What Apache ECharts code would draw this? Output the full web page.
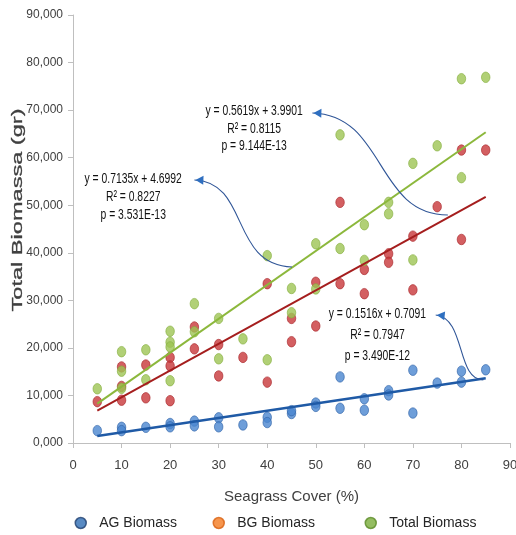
<!DOCTYPE html>
<html>
<head>
<meta charset="utf-8">
<script src="https://cdn.jsdelivr.net/npm/echarts@6/dist/echarts.min.js"></script>
<style>
html,body{margin:0;padding:0;background:#fff;}
#chart{width:516px;height:535px;}
</style>
</head>
<body>
<div id="chart"></div>
<script>
// ---- data (x = seagrass cover %, y = biomass) ----
var xTicks = [0,10,20,30,40,50,60,70,80,90];
var yTicks = [0,10000,20000,30000,40000,50000,60000,70000,80000,90000];

var agBiomass = [[5,2600],[10,3300],[10,2600],[15,3300],[20,4100],[20,3400],[25,4600],[25,3600],[30,5300],[30,3400],[35,3800],[40,5400],[40,4300],[45,6200],[45,6800],[50,8400],[50,7700],[55,13900],[55,7300],[60,9300],[60,6900],[65,11000],[65,10100],[70,15300],[70,6300],[75,12600],[80,15100],[80,12800],[85,15400]];

var bgBiomass = [[5,8700],[10,16000],[10,11900],[10,9000],[15,16400],[15,9500],[20,18000],[20,16200],[20,8900],[25,24400],[25,19800],[30,20700],[30,14100],[35,18000],[40,33500],[40,12800],[45,26200],[45,21300],[50,33800],[50,24600],[55,50600],[55,33500],[60,36500],[60,31400],[65,39800],[65,38000],[70,43500],[70,32200],[75,49700],[80,61600],[80,42800],[85,61600]];

var totalBiomass = [[5,11400],[10,19200],[10,15100],[10,11500],[15,19600],[15,13300],[20,23500],[20,21200],[20,20200],[20,13100],[25,29300],[25,23400],[30,26200],[30,17700],[35,21900],[40,39400],[40,17500],[45,32500],[45,27400],[50,41900],[50,32400],[55,64800],[55,40900],[60,45900],[60,38400],[65,50600],[65,48200],[70,58800],[70,38500],[75,62500],[80,76600],[80,55800],[85,76900]];

// trend line end points
var agTrend = [[5,1470],[85,13600]];
var bgTrend = [[5,6800],[85,51750]];
var totalTrend = [[5,8270],[85,65350]];

// annotation texts
var ann1Text = ['y = 0.5619x + 3.9901','R\u00b2 = 0.8115','p = 9.144E-13'];
var ann2Text = ['y = 0.7135x + 4.6992','R\u00b2 = 0.8227','p = 3.531E-13'];
var ann3Text = ['y = 0.1516x + 0.7091','R\u00b2 = 0.7947','p = 3.490E-12'];
var yTitle = 'Total Biomassa (gr)';
// annotation anchor (data coords of first line centre) and arrow bezier (head, cp1, cp2, tail)
var ann1Pos = [37.3, 69800];
var ann2Pos = [12.4, 55500];
var ann3Pos = [62.7, 27100];
var arrow1 = [[49.3,69400],[64.4,68980],[62.3,47950],[77.2,47950]];
var arrow2 = [[25.0,55310],[36.4,54890],[32.3,37430],[45.1,37010]];
var arrow3 = [[74.7,26920],[80.9,26290],[78.9,13250],[84.5,13250]];

var FONT = "'Liberation Sans',Arial,sans-serif";

var chart = echarts.init(document.getElementById('chart'));

function legendItem(name, left, color, border) {
  return {
    left: left, top: 516, padding: 0, itemWidth: 11, itemHeight: 11, icon: 'circle',
    data: [{name: name, itemStyle: {color: color, borderColor: border, borderWidth: 1.5}}],
    textStyle: {fontFamily: FONT, fontSize: 14, color: '#262626', padding: [0,0,0,8]},
    itemGap: 10, selectedMode: false
  };
}

var option = {
  animation: false,
  backgroundColor: '#fff',
  grid: {left: 73, right: 6, top: 15, bottom: 92, containLabel: false, outerBoundsMode: 'none'},
  legend: [
    legendItem('AG Biomass', 74.5, '#2e6db4', '#1f3f6e'),
    legendItem('BG Biomass', 212.5, '#f47b20', '#d86010'),
    legendItem('Total Biomass', 364.5, '#79ac3a', '#5a8a26')
  ],
  xAxis: {
    type: 'value', min: 0, max: 90, interval: 10,
    name: 'Seagrass Cover (%)', nameLocation: 'middle', nameGap: 46,
    nameTextStyle: {fontFamily: FONT, fontSize: 15, color: '#404040'},
    axisLine: {show: true, lineStyle: {color: '#bfbfbf', width: 1}},
    axisTick: {show: true, length: 5, lineStyle: {color: '#bfbfbf'}},
    axisLabel: {fontFamily: FONT, fontSize: 13, color: '#404040', margin: 16},
    splitLine: {show: false}
  },
  yAxis: {
    type: 'value', min: 0, max: 90000, interval: 10000,
    axisLine: {show: true, lineStyle: {color: '#bfbfbf', width: 1}},
    axisTick: {show: true, length: 5, lineStyle: {color: '#bfbfbf'}},
    axisLabel: {fontFamily: FONT, fontSize: 12, color: '#404040', margin: 10,
      formatter: function(v){ return v === 0 ? '0,000' : v.toLocaleString('en-US'); }},
    splitLine: {show: false}
  },
  series: [
    {name: 'AG Biomass', type: 'scatter', data: agBiomass, symbolSize: [8.5,10.5], z: 3,
      itemStyle: {color: '#4a86d0', borderColor: '#2f62a8', borderWidth: 0.8}},
    {name: 'BG Biomass', type: 'scatter', data: bgBiomass, symbolSize: [8.5,10.5], z: 3,
      itemStyle: {color: '#c8373a', borderColor: '#a82428', borderWidth: 0.8}},
    {name: 'Total Biomass', type: 'scatter', data: totalBiomass, symbolSize: [8.5,10.5], z: 3,
      itemStyle: {color: '#9dc454', borderColor: '#84ad3c', borderWidth: 0.8}},
    {name: 'AG trend', type: 'line', data: agTrend, showSymbol: false, z: 4, silent: true,
      lineStyle: {color: '#1f5aa6', width: 2.6}},
    {name: 'BG trend', type: 'line', data: bgTrend, showSymbol: false, z: 4, silent: true,
      lineStyle: {color: '#a51e1e', width: 2}},
    {name: 'Total trend', type: 'line', data: totalTrend, showSymbol: false, z: 4, silent: true,
      lineStyle: {color: '#8cb83c', width: 2}}
  ]
};
chart.setOption(option);

function px(p){ return chart.convertToPixel({gridIndex: 0}, p); }

var graphics = [];
function addText(lines, pos, spacing) {
  var c = px(pos);
  lines.forEach(function(t, i){
    graphics.push({type: 'text', z: 10, x: c[0], y: c[1] + i*spacing, scaleX: 0.74, scaleY: 1.1,
      style: {text: t, x: 0, y: 0, textAlign: 'center', textVerticalAlign: 'middle',
        font: '14px ' + FONT, fill: '#111'}});
  });
}
function addArrow(pts) {
  var p0 = px(pts[0]), p1 = px(pts[1]), p2 = px(pts[2]), p3 = px(pts[3]);
  graphics.push({type: 'bezierCurve', z: 10, shape: {x1: p3[0], y1: p3[1], cpx1: p2[0], cpy1: p2[1],
    cpx2: p1[0], cpy2: p1[1], x2: p0[0], y2: p0[1]},
    style: {stroke: '#2f5597', lineWidth: 1.1, fill: null}});
  var dx = p0[0]-p1[0], dy = p0[1]-p1[1], L = Math.sqrt(dx*dx+dy*dy);
  dx /= L; dy /= L;
  var bx = p0[0]-dx*9, by = p0[1]-dy*9;
  graphics.push({type: 'polygon', z: 10, shape: {points: [[p0[0]-dx*1, p0[1]-dy*1],
    [bx - dy*4.5, by + dx*4.5], [bx + dy*4.5, by - dx*4.5]]}, style: {fill: '#2f6fc0'}});
}
addText(ann1Text, ann1Pos, 17.5);
addText(ann2Text, ann2Pos, 18);
addText(ann3Text, ann3Pos, 21);
addArrow(arrow1);
addArrow(arrow2);
addArrow(arrow3);
// y axis title (stretched along its length like the reference)
var mid = px([0, 49000]);
graphics.push({type: 'text', z: 10, x: 18, y: mid[1], rotation: Math.PI/2, scaleX: 1.52,
  style: {text: yTitle, x: 0, y: 0, textAlign: 'center', textVerticalAlign: 'middle',
    font: '15.5px ' + FONT, fill: '#404040', stroke: '#404040', lineWidth: 0.3}});
chart.setOption({graphic: graphics});
</script>
</body>
</html>
